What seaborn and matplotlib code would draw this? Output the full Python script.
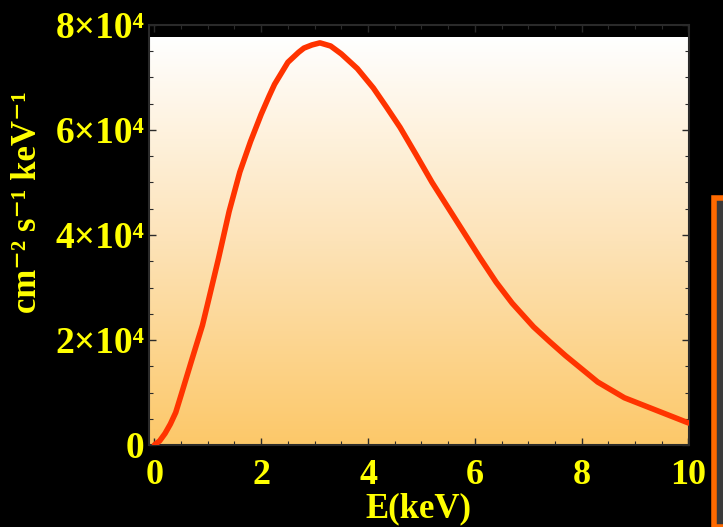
import numpy as np
import pandas as pd
import matplotlib
matplotlib.use("Agg")
import matplotlib.pyplot as plt
from matplotlib.colors import LinearSegmentedColormap
from matplotlib.patches import Rectangle
from matplotlib.ticker import FixedLocator, FixedFormatter, MultipleLocator
import seaborn as sns

# Spectrum: photon flux vs energy
energy_kev = [0, 0.1, 0.2, 0.3, 0.4, 0.5, 0.7, 0.9, 1.0, 1.2, 1.4, 1.6, 1.8, 2.0, 2.15,
              2.25, 2.5, 2.7, 2.8, 2.95, 3.1, 3.3, 3.5, 3.8, 4.1, 4.35, 4.6, 4.9, 5.2,
              5.5, 5.85, 6.1, 6.4, 6.7, 7.1, 7.4, 7.7, 8.0, 8.3, 8.8, 9.1, 9.5, 10.0]
flux_1e4 = [0, 0.08, 0.22, 0.4, 0.62, 0.95, 1.62, 2.28, 2.7, 3.55, 4.45, 5.2, 5.78, 6.3, 6.65,
            6.87, 7.29, 7.48, 7.56, 7.62, 7.66, 7.6, 7.45, 7.17, 6.8, 6.43, 6.05, 5.53, 5.0,
            4.52, 3.96, 3.56, 3.1, 2.7, 2.25, 1.97, 1.7, 1.45, 1.2, 0.9, 0.78, 0.62, 0.42]

x_ticks = [0, 2, 4, 6, 8, 10]
x_tick_labels = ["0", "2", "4", "6", "8", "10"]
y_ticks = [0, 2e4, 4e4, 6e4, 8e4]
y_tick_labels = ["0", "2×10⁴", "4×10⁴", "6×10⁴", "8×10⁴"]

df = pd.DataFrame({"E": energy_kev, "flux": np.array(flux_1e4) * 1e4})

sns.set_theme(style="ticks")
plt.rcParams["font.family"] = ["Liberation Serif", "DejaVu Serif"]
plt.rcParams["font.weight"] = "bold"

yellow = "#FFFF00"
frame = "#2a2a2a"

fig = plt.figure(figsize=(7.23, 5.27), dpi=100, facecolor="black")
ax = fig.add_axes([148.5 / 723, 1 - 445 / 527, (689 - 148.5) / 723, (445 - 25) / 527])
ax.set_facecolor("black")

xlim = (-0.11, 10.01)
ylim = (0, 8e4)

# vertical white-to-amber background
grad_cmap = LinearSegmentedColormap.from_list("bg", ["#FCC869", "#FDE3B8", "#FFFFFF"])
grad = np.linspace(0, 1, 256).reshape(-1, 1)
ax.imshow(grad, cmap=grad_cmap, origin="lower", aspect="auto",
          extent=[xlim[0], xlim[1], ylim[0], 7.77e4], zorder=0)

sns.lineplot(data=df, x="E", y="flux", ax=ax, color="#FF3300", linewidth=4.0, zorder=3)

ax.set_xlim(*xlim)
ax.set_ylim(*ylim)

ax.xaxis.set_major_locator(FixedLocator(x_ticks))
ax.xaxis.set_major_formatter(FixedFormatter(x_tick_labels))
ax.xaxis.set_minor_locator(MultipleLocator(0.5))
ax.yaxis.set_major_locator(FixedLocator(y_ticks))
ax.yaxis.set_major_formatter(FixedFormatter(y_tick_labels))
ax.yaxis.set_minor_locator(MultipleLocator(5e3))

ax.tick_params(which="both", direction="in", top=True, right=True, color=frame)
ax.tick_params(which="major", length=5, width=1.0)
ax.tick_params(which="minor", length=3, width=0.8)
ax.tick_params(axis="x", which="major", labelsize=26, labelcolor=yellow, pad=10)
ax.tick_params(axis="y", which="major", labelsize=27, labelcolor=yellow, pad=3)
for lab in ax.get_xticklabels() + ax.get_yticklabels():
    lab.set_fontweight("bold")

for s in ax.spines.values():
    s.set_color(frame)
    s.set_linewidth(1.5)

ax.set_xlabel("E(keV)", color=yellow, fontsize=25, fontweight="bold", labelpad=0)
ax.set_ylabel("")
fig.text(28 / 723, 1 - 202 / 527, "cm⁻² s⁻¹ keV⁻¹", rotation=90, color=yellow,
         fontsize=25, fontweight="bold", ha="center", va="center")

# adjoining panel edge at the right border
fig.patches.append(Rectangle((714 / 723, 0), 12 / 723, 1 - 198 / 527,
                             transform=fig.transFigure, facecolor="#3a3a3a",
                             edgecolor="#FF6A00", linewidth=4, zorder=5))

fig.savefig("out.png", dpi=100, facecolor="black")
